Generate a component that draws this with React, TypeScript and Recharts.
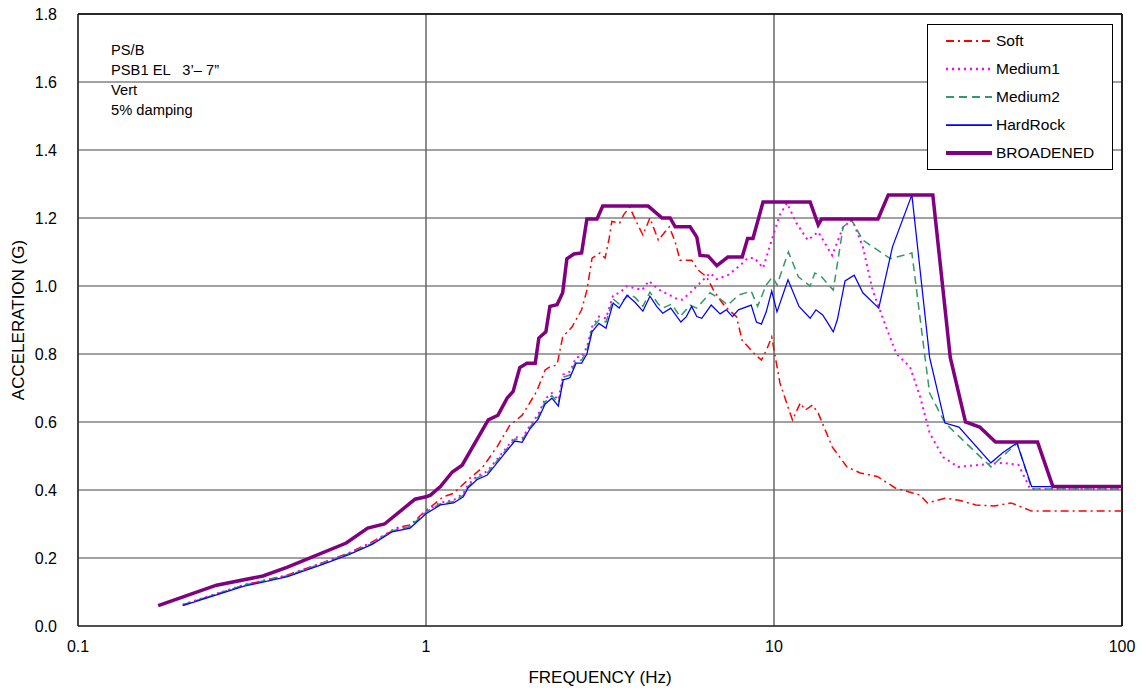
import React from 'react';
import {
  LineChart,
  Line,
  XAxis,
  YAxis,
  CartesianGrid,
  Legend,
  ReferenceLine,
  Label,
} from 'recharts';

type Pt = [number, number];

// [frequency (Hz), acceleration (G)]
const soft: Pt[] = [
  [0.2, 0.062], [0.3, 0.12], [0.4, 0.15], [0.5, 0.185], [0.6, 0.215], [0.69, 0.244],
  [0.79, 0.277], [0.83, 0.29], [0.9, 0.297], [1.0, 0.34], [1.06, 0.36], [1.12, 0.38],
  [1.2, 0.39], [1.32, 0.43], [1.45, 0.465], [1.6, 0.527], [1.74, 0.59], [1.89, 0.62],
  [2.08, 0.69], [2.2, 0.753], [2.27, 0.762], [2.38, 0.768], [2.47, 0.85], [2.63, 0.88],
  [2.8, 0.93], [2.9, 0.988], [3.0, 1.082], [3.16, 1.097], [3.27, 1.082], [3.36, 1.14],
  [3.42, 1.19], [3.6, 1.185], [3.7, 1.21], [3.85, 1.232], [4.0, 1.194], [4.2, 1.15],
  [4.4, 1.2], [4.65, 1.135], [5.0, 1.174], [5.2, 1.13], [5.37, 1.076], [5.8, 1.076],
  [6.05, 1.047], [6.4, 1.027], [6.7, 0.988], [7.1, 0.95], [7.4, 0.93], [7.8, 0.91],
  [8.1, 0.84], [8.8, 0.8], [9.2, 0.782], [9.5, 0.81], [9.85, 0.85], [10.4, 0.715],
  [10.8, 0.665], [11.3, 0.606], [11.9, 0.656], [12.3, 0.635], [12.9, 0.65], [13.4, 0.626],
  [14.7, 0.527], [16.2, 0.468], [17.7, 0.45], [19.8, 0.44], [22.3, 0.406], [26.3, 0.385],
  [27.6, 0.362], [31, 0.376], [34, 0.37], [38, 0.356], [43, 0.353], [48, 0.362],
  [55, 0.338], [100, 0.338],
];

const medium1: Pt[] = [
  [0.2, 0.063], [0.3, 0.121], [0.4, 0.149], [0.5, 0.184], [0.6, 0.214], [0.7, 0.245],
  [0.8, 0.282], [0.9, 0.295], [1.0, 0.338], [1.1, 0.363], [1.2, 0.37], [1.28, 0.39],
  [1.32, 0.415], [1.4, 0.44], [1.5, 0.455], [1.69, 0.52], [1.8, 0.556], [1.89, 0.552],
  [1.99, 0.59], [2.1, 0.622], [2.2, 0.668], [2.3, 0.685], [2.4, 0.665], [2.48, 0.74],
  [2.59, 0.748], [2.7, 0.79], [2.8, 0.792], [2.9, 0.82], [3.0, 0.88], [3.14, 0.91],
  [3.29, 0.905], [3.45, 0.973], [3.6, 0.98], [3.78, 1.0], [3.98, 0.994], [4.18, 0.988],
  [4.37, 1.015], [4.65, 0.99], [4.95, 0.976], [5.26, 0.962], [5.45, 0.96], [5.74, 0.98],
  [6.13, 1.009], [6.55, 1.038], [6.85, 1.02], [7.37, 1.032], [7.98, 1.06], [8.4, 1.082],
  [8.8, 1.082], [9.3, 1.053], [9.85, 1.135], [10.4, 1.21], [10.9, 1.244], [11.6, 1.185],
  [12.5, 1.135], [13.4, 1.159], [14.7, 1.09], [15.8, 1.174], [16.8, 1.194], [18.0, 1.115],
  [19.2, 0.988], [20.8, 0.89], [22.5, 0.8], [24.6, 0.762], [26.3, 0.674], [28, 0.568],
  [30.6, 0.497], [33.8, 0.468], [39, 0.474], [45.5, 0.48], [50.4, 0.474], [54.5, 0.403],
  [100, 0.403],
];

const medium2: Pt[] = [
  [0.2, 0.062], [0.3, 0.12], [0.4, 0.148], [0.5, 0.183], [0.6, 0.213], [0.7, 0.243],
  [0.8, 0.28], [0.9, 0.292], [1.0, 0.335], [1.1, 0.36], [1.2, 0.366], [1.28, 0.385],
  [1.32, 0.41], [1.4, 0.435], [1.5, 0.45], [1.69, 0.515], [1.8, 0.55], [1.89, 0.546],
  [1.99, 0.585], [2.1, 0.615], [2.2, 0.66], [2.3, 0.678], [2.4, 0.655], [2.48, 0.732],
  [2.59, 0.738], [2.7, 0.78], [2.8, 0.782], [2.9, 0.81], [3.0, 0.875], [3.14, 0.9],
  [3.29, 0.894], [3.45, 0.962], [3.59, 0.947], [3.85, 0.976], [4.0, 0.965], [4.2, 0.94],
  [4.4, 0.982], [4.65, 0.947], [4.79, 0.935], [5.08, 0.947], [5.37, 0.91], [5.74, 0.944],
  [6.0, 0.935], [6.55, 0.98], [7.0, 0.962], [7.37, 0.944], [7.9, 0.973], [8.6, 0.985],
  [8.97, 0.94], [9.5, 1.003], [9.9, 1.027], [10.2, 1.003], [11.0, 1.1], [11.75, 1.027],
  [12.7, 1.0], [13.1, 1.038], [13.7, 1.027], [14.8, 0.988], [15.8, 1.174], [16.7, 1.194],
  [18.0, 1.135], [21.6, 1.08], [24.9, 1.097], [25.6, 1.0], [26.7, 0.85], [28, 0.685],
  [31, 0.597], [42, 0.468], [50, 0.538], [55, 0.403], [100, 0.403],
];

const hardRock: Pt[] = [
  [0.2, 0.06], [0.3, 0.117], [0.4, 0.145], [0.5, 0.18], [0.6, 0.21], [0.7, 0.24],
  [0.8, 0.277], [0.9, 0.288], [1.0, 0.33], [1.1, 0.356], [1.2, 0.362], [1.28, 0.38],
  [1.32, 0.406], [1.4, 0.43], [1.5, 0.444], [1.69, 0.51], [1.8, 0.544], [1.89, 0.54],
  [1.99, 0.58], [2.1, 0.608], [2.2, 0.653], [2.3, 0.67], [2.4, 0.647], [2.48, 0.724],
  [2.59, 0.73], [2.7, 0.773], [2.8, 0.773], [2.9, 0.8], [3.0, 0.865], [3.14, 0.89],
  [3.29, 0.876], [3.45, 0.95], [3.59, 0.935], [3.78, 0.973], [3.98, 0.953], [4.2, 0.926],
  [4.4, 0.97], [4.6, 0.94], [4.79, 0.92], [5.05, 0.935], [5.4, 0.894], [5.6, 0.91],
  [5.8, 0.94], [6.0, 0.91], [6.2, 0.905], [6.6, 0.944], [7.0, 0.918], [7.3, 0.93],
  [7.6, 0.91], [7.9, 0.93], [8.6, 0.944], [8.9, 0.894], [9.2, 0.888], [9.5, 0.924],
  [9.85, 0.985], [10.2, 0.924], [10.97, 1.018], [11.8, 0.94], [12.7, 0.905], [13.2, 0.93],
  [13.8, 0.915], [14.3, 0.89], [14.8, 0.865], [15.2, 0.9], [16.0, 1.015], [17.0, 1.032],
  [18.0, 0.98], [20.0, 0.935], [21.9, 1.115], [24.9, 1.268], [28.0, 0.79], [31.0, 0.597],
  [34.0, 0.585], [42, 0.48], [45.5, 0.51], [49.9, 0.538], [55, 0.41], [100, 0.41],
];

const broadened: Pt[] = [
  [0.17, 0.06], [0.25, 0.12], [0.34, 0.147], [0.4, 0.173], [0.59, 0.244], [0.68, 0.288],
  [0.76, 0.3], [0.93, 0.373], [1.0, 0.38], [1.03, 0.385], [1.1, 0.41], [1.19, 0.453],
  [1.27, 0.473], [1.51, 0.606], [1.61, 0.62], [1.71, 0.67], [1.78, 0.69], [1.86, 0.76],
  [1.95, 0.773], [2.06, 0.773], [2.11, 0.847], [2.21, 0.865], [2.27, 0.94], [2.38, 0.945],
  [2.47, 0.98], [2.54, 1.08], [2.66, 1.094], [2.8, 1.097], [2.9, 1.197], [3.1, 1.197],
  [3.22, 1.235], [4.35, 1.235], [4.77, 1.2], [5.03, 1.2], [5.2, 1.174], [5.74, 1.174],
  [6.0, 1.144], [6.13, 1.09], [6.47, 1.088], [6.85, 1.06], [7.37, 1.085], [8.1, 1.085],
  [8.4, 1.14], [8.7, 1.14], [9.3, 1.247], [12.7, 1.247], [13.4, 1.18], [13.7, 1.197],
  [19.9, 1.197], [21.3, 1.268], [28.6, 1.268], [32.1, 0.79], [35.5, 0.6], [39.0, 0.585],
  [43.3, 0.541], [57.2, 0.541], [63.3, 0.41], [100, 0.41],
];

const xTicks = [0.1, 1, 10, 100];
const yTicks = [0, 0.2, 0.4, 0.6, 0.8, 1.0, 1.2, 1.4, 1.6, 1.8];
const notes = ['PS/B', 'PSB1 EL   3\u2019\u2013 7\u201D', 'Vert', '5% damping'];

const series = [
  { name: 'Soft', pts: soft, color: '#FF0000', width: 1.5, dash: '8 4 2 4' },
  { name: 'Medium1', pts: medium1, color: '#FF00FF', width: 2, dash: '2 4' },
  { name: 'Medium2', pts: medium2, color: '#339966', width: 1.5, dash: '8 5' },
  { name: 'HardRock', pts: hardRock, color: '#0000FF', width: 1.25, dash: undefined },
  { name: 'BROADENED', pts: broadened, color: '#800080', width: 3.5, dash: undefined },
];

const toRows = (pts: Pt[]) => pts.map(([f, a]) => ({ f, a }));

const sans = 'Liberation Sans, Arial, sans-serif';
const tickFont = { fontFamily: sans, fontSize: 16, fill: '#000' };

function LegendBox() {
  return (
    <div
      style={{
        width: 184,
        height: 142,
        border: '1px solid #000',
        background: '#fff',
        boxSizing: 'content-box',
        paddingTop: 2,
      }}
    >
      {series.map(s => (
        <div key={s.name} style={{ display: 'flex', alignItems: 'center', height: 28 }}>
          <svg width={68} height={10}>
            <line
              x1={18}
              x2={64}
              y1={5}
              y2={5}
              stroke={s.color}
              strokeWidth={s.width + 0.5}
              strokeDasharray={s.dash}
            />
          </svg>
          <span style={{ fontFamily: sans, fontSize: 15.5, color: '#000', lineHeight: '28px' }}>
            {s.name}
          </span>
        </div>
      ))}
    </div>
  );
}

export default function App() {
  return (
    <div style={{ position: 'absolute', left: 0, top: 0, width: 1146, height: 692, background: '#fff' }}>
      <LineChart width={1146} height={692} margin={{ top: 14, right: 24, left: 0, bottom: 0 }}>
        <CartesianGrid vertical={false} stroke="#444" strokeWidth={1} />
        <CartesianGrid horizontal={false} stroke="#666" strokeWidth={1.5} />
        <XAxis
          dataKey="f"
          type="number"
          scale="log"
          domain={[0.1, 100]}
          ticks={xTicks}
          height={66}
          stroke="#000"
          tickSize={0}
          tickMargin={15}
          tick={tickFont}
          tickFormatter={(v: number) => String(v)}
        >
          <Label
            value="FREQUENCY (Hz)"
            position="insideBottom"
            offset={9}
            style={{ fontFamily: sans, fontSize: 17, fill: '#000' }}
          />
        </XAxis>
        <YAxis
          type="number"
          domain={[0, 1.8]}
          ticks={yTicks}
          width={78}
          stroke="#000"
          tickSize={0}
          tickMargin={21}
          tick={tickFont}
          tickFormatter={(v: number) => v.toFixed(1)}
        >
          <Label
            content={() => (
              <text
                x={18}
                y={320}
                transform="rotate(-90 18 320)"
                textAnchor="middle"
                dominantBaseline="central"
                style={{ fontFamily: sans, fontSize: 17, fill: '#000' }}
              >
                ACCELERATION (G)
              </text>
            )}
          />
        </YAxis>
        <ReferenceLine y={1.8} stroke="#000" strokeWidth={1.5} />
        <ReferenceLine x={100} stroke="#000" strokeWidth={1.5} />
        {series.map(s => (
          <Line
            key={s.name}
            name={s.name}
            data={toRows(s.pts)}
            dataKey="a"
            type="linear"
            stroke={s.color}
            strokeWidth={s.width}
            strokeDasharray={s.dash}
            dot={false}
            activeDot={false}
            isAnimationActive={false}
          />
        ))}
        <Legend
          layout="horizontal"
          verticalAlign="middle"
          align="center"
          content={() => <LegendBox />}
          wrapperStyle={{ left: 927, top: 24, width: 186, height: 146 }}
        />
      </LineChart>
      <div
        style={{
          position: 'absolute',
          left: 111,
          top: 40,
          fontFamily: sans,
          fontSize: 14.7,
          lineHeight: '20px',
          color: '#000',
          whiteSpace: 'pre',
          pointerEvents: 'none',
        }}
      >
        {notes.map(n => (
          <div key={n}>{n}</div>
        ))}
      </div>
    </div>
  );
}
